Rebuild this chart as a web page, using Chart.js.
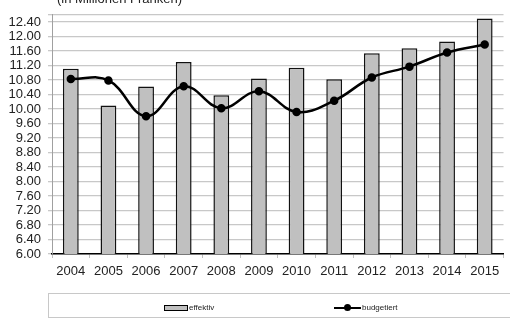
<!DOCTYPE html>
<html>
<head>
<meta charset="utf-8">
<script src="https://cdn.jsdelivr.net/npm/chart.js@4"></script>
<style>
  html, body { margin: 0; padding: 0; background: #fff; }
  #wrap { position: relative; width: 510px; height: 322px; overflow: hidden; font-family: "Liberation Sans", Arial, sans-serif; }
  #c { position: absolute; left: 0; top: 0; }
  #title { position: absolute; left: 57px; top: -9px; font-size: 13px; line-height: 15px; color: #222; white-space: nowrap; }
  #legend { position: absolute; left: 48px; top: 293px; width: 470px; height: 25px; border: 1px solid #c8c8c8; box-sizing: border-box; font-size: 8px; color: #222; }
  .item { position: absolute; top: 9px; height: 10px; line-height: 10px; white-space: nowrap; }
  .barsym { position: absolute; left: 0; top: 2px; width: 22px; height: 4px; background: #c0c0c0; border: 1px solid #000; }
  .linesym { position: absolute; left: 0; top: 4px; width: 27px; height: 2px; background: #000; }
  .dot { position: absolute; left: 10px; top: 1px; width: 7px; height: 7px; border-radius: 50%; background: #000; }
</style>
</head>
<body>
<div id="wrap">
  <canvas id="c" width="510" height="322"></canvas>
  <div id="title">(in Millionen Franken)</div>
  <div id="legend">
    <div class="item" style="left:115px;"><div class="barsym"></div><span style="margin-left:25px;">effektiv</span></div>
    <div class="item" style="left:285px;"><div class="linesym"></div><div class="dot"></div><span style="margin-left:28px;">budgetiert</span></div>
  </div>
</div>
<script>
const years = ["2004","2005","2006","2007","2008","2009","2010","2011","2012","2013","2014","2015"];
const effektiv = [11.11, 10.10, 10.62, 11.30, 10.38, 10.84, 11.14, 10.82, 11.54, 11.68, 11.86, 12.50];
const budgetiert = [10.83, 10.79, 9.80, 10.63, 10.02, 10.49, 9.92, 10.23, 10.87, 11.17, 11.56, 11.78];
const yTicks = [6.0, 6.4, 6.8, 7.2, 7.6, 8.0, 8.4, 8.8, 9.2, 9.6, 10.0, 10.4, 10.8, 11.2, 11.6, 12.0, 12.4];
const yMin = 6.0, yMax = 12.6;

const font = { family: "'Liberation Sans', Arial, sans-serif", size: 13 };

new Chart(document.getElementById('c'), {
  data: {
    labels: years,
    datasets: [
      {
        type: 'line',
        label: 'budgetiert',
        data: budgetiert,
        borderColor: '#000',
        backgroundColor: '#000',
        borderWidth: 2.5,
        pointRadius: 3,
        pointBackgroundColor: '#000',
        pointBorderColor: '#000',
        tension: 0.4,
        order: 0
      },
      {
        type: 'bar',
        label: 'effektiv',
        data: effektiv,
        backgroundColor: '#c0c0c0',
        borderColor: '#111',
        borderWidth: 1.5,
        barPercentage: 0.42,
        categoryPercentage: 1.0,
        order: 1
      }
    ]
  },
  options: {
    responsive: false,
    animation: false,
    events: [],
    layout: { padding: { top: 14, right: 0, bottom: 37, left: 0 } },
    plugins: { legend: { display: false }, title: { display: false }, tooltip: { enabled: false } },
    scales: {
      x: {
        offset: true,
        grid: { offset: true, drawOnChartArea: false, drawTicks: true, tickLength: 4, color: '#c0c0c0' },
        border: { color: '#000', width: 1.5 },
        ticks: { font: font, color: '#222', padding: 6, maxRotation: 0, autoSkip: false },
        afterFit: (s) => { s.height = 31; }
      },
      y: {
        min: yMin,
        max: yMax,
        afterBuildTicks: (s) => { s.ticks = yTicks.map(v => ({ value: v })).concat([{ value: yMax }]); },
        grid: { color: '#c8c8c8', lineWidth: 1.3, tickLength: 4, drawTicks: true },
        border: { color: '#a0a0a0', width: 1 },
        ticks: {
          font: font, color: '#222', padding: 7, autoSkip: false,
          callback: (v) => (Math.abs(v - yMax) < 1e-6 ? '' : Number(v).toFixed(2))
        },
        afterFit: (s) => { s.width = 52; }
      }
    }
  }
});
</script>
</body>
</html>
